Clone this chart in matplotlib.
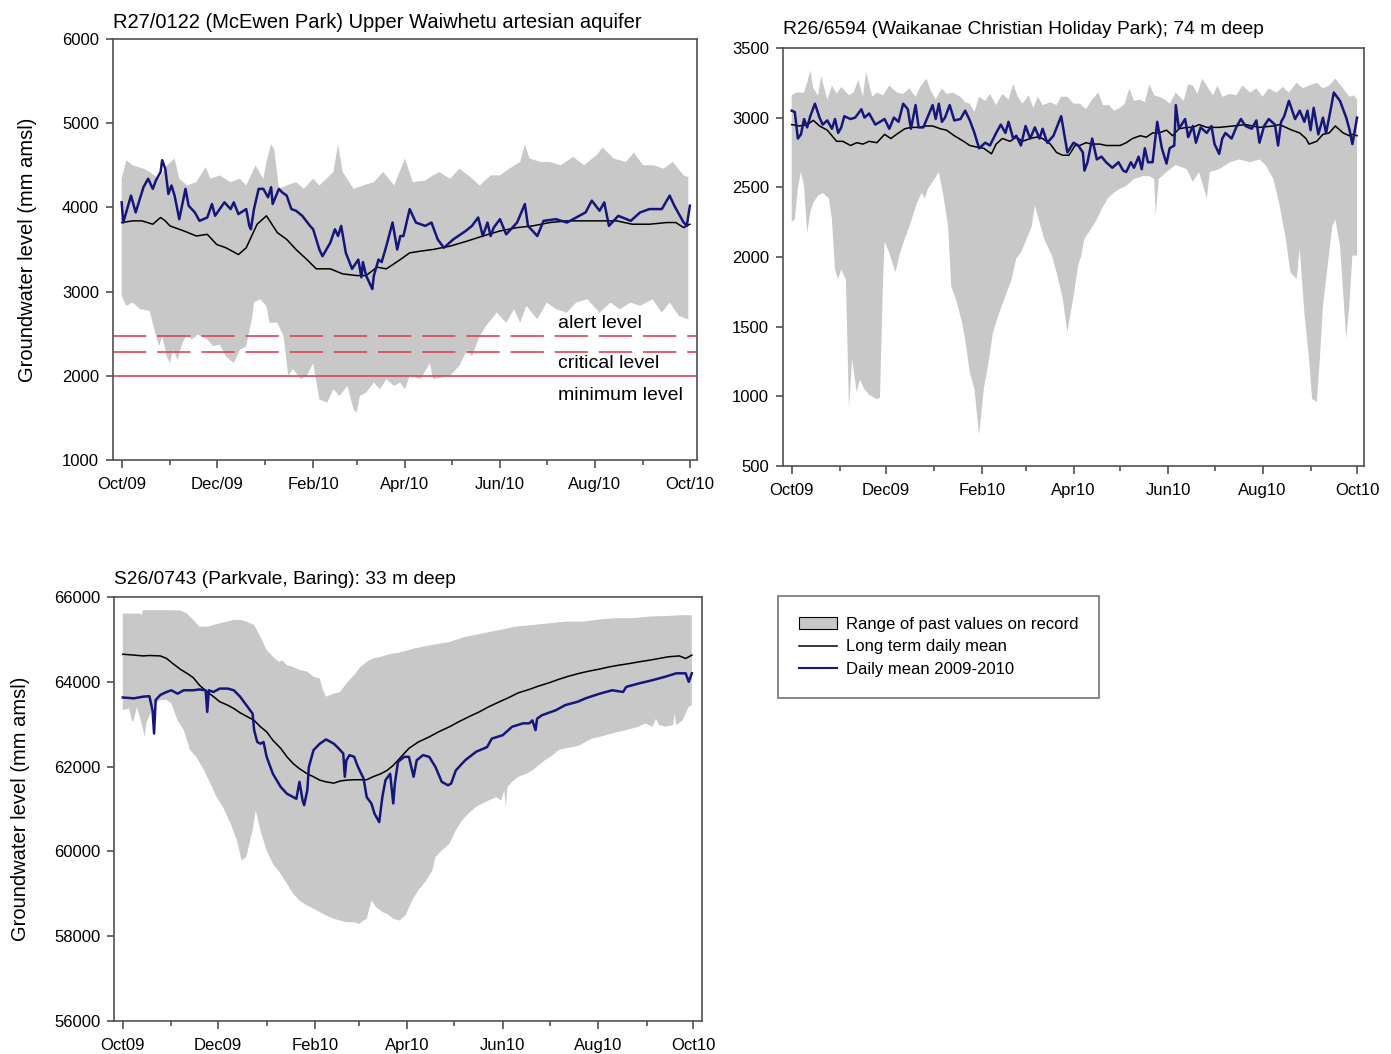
import numpy as np
import matplotlib
matplotlib.use('Agg')
import matplotlib.pyplot as plt
from matplotlib.patches import Patch
from matplotlib.lines import Line2D

plt.rcParams['font.family'] = ['Liberation Sans', 'DejaVu Sans']

# month starts in days after 1 Oct 2009
month_days = [0, 31, 61, 92, 123, 151, 182, 212, 243, 273, 304, 335, 365]
labels_p1 = ['Oct/09', 'Dec/09', 'Feb/10', 'Apr/10', 'Jun/10', 'Aug/10', 'Oct/10']
labels_p23 = ['Oct09', 'Dec09', 'Feb10', 'Apr10', 'Jun10', 'Aug10', 'Oct10']

# ---------- R27/0122 McEwen Park ----------
p1_blue_d = [0, 1, 6, 9, 14, 17, 20, 22, 25, 26, 28, 30, 32, 34, 37, 41, 43, 47, 50, 55, 58, 60, 66, 70,
             72, 75, 80, 82, 83, 85, 88, 91, 94, 96, 97, 101, 103, 106, 109, 112, 116, 121, 123, 127, 129,
             134, 137, 139, 141, 144, 148, 152, 154, 155, 157, 160, 161, 162, 165, 167, 170, 174, 177, 179,
             181, 185, 189, 195, 199, 203, 207, 213, 221, 225, 229, 232, 235, 237, 239, 243, 247, 254, 259,
             261, 267, 271, 279, 286, 292, 298, 302, 307, 310, 313, 319, 327, 333, 339, 347, 352, 355, 361,
             363, 365]
p1_blue_v = [4060, 3820, 4140, 3940, 4240, 4340, 4220, 4320, 4420, 4560, 4460, 4160, 4260, 4140, 3860, 4220,
             4020, 3940, 3840, 3880, 4040, 3900, 4060, 3980, 4060, 3920, 3980, 3780, 3740, 3980, 4220, 4220,
             4120, 4240, 4040, 4220, 4180, 4140, 3980, 3960, 3900, 3780, 3740, 3500, 3420, 3580, 3740, 3660,
             3780, 3460, 3270, 3380, 3170, 3350, 3190, 3070, 3030, 3190, 3380, 3350, 3540, 3820, 3500, 3660,
             3660, 3980, 3820, 3780, 3820, 3620, 3520, 3620, 3720, 3780, 3880, 3660, 3820, 3660, 3760, 3860,
             3680, 3820, 4040, 3780, 3660, 3840, 3860, 3820, 3880, 3940, 4080, 3960, 4060, 3780, 3900, 3840,
             3940, 3980, 3980, 4140, 4020, 3820, 3780, 4020]
p1_mean_d = [0, 7, 13, 20, 25, 28, 31, 40, 48, 55, 61, 67, 75, 80, 87, 93, 100, 106, 112, 119, 125, 134,
             142, 151, 157, 164, 170, 179, 185, 192, 200, 211, 222, 232, 243, 254, 264, 275, 286, 296, 307,
             318, 328, 339, 350, 356, 361, 365]
p1_mean_v = [3820, 3840, 3840, 3800, 3880, 3840, 3780, 3720, 3660, 3680, 3560, 3520, 3440, 3520, 3800, 3900,
             3700, 3620, 3500, 3380, 3270, 3270, 3210, 3190, 3190, 3290, 3270, 3380, 3460, 3480, 3500, 3540,
             3600, 3660, 3720, 3760, 3780, 3820, 3840, 3840, 3840, 3840, 3800, 3800, 3820, 3820, 3760, 3800]
p1_hi_d = [0, 3, 7, 14, 18, 24, 29, 34, 37, 42, 48, 54, 57, 63, 70, 76, 80, 86, 91, 93, 96, 98, 101, 106,
           112, 117, 123, 127, 136, 139, 142, 149, 155, 162, 168, 175, 182, 187, 195, 200, 204, 211, 217,
           224, 230, 237, 243, 249, 256, 259, 262, 269, 275, 282, 290, 297, 305, 309, 316, 324, 329, 335,
           342, 348, 354, 361, 364]
p1_hi_v = [4340, 4560, 4500, 4460, 4420, 4340, 4500, 4580, 4340, 4260, 4300, 4480, 4340, 4380, 4300, 4340,
           4260, 4500, 4340, 4540, 4750, 4690, 4220, 4260, 4300, 4220, 4340, 4260, 4420, 4750, 4420, 4220,
           4260, 4300, 4420, 4260, 4580, 4300, 4320, 4380, 4420, 4340, 4460, 4360, 4260, 4380, 4380, 4460,
           4540, 4750, 4580, 4540, 4540, 4500, 4600, 4500, 4620, 4710, 4580, 4540, 4650, 4500, 4500, 4460,
           4540, 4380, 4360]
p1_lo_d = [0, 3, 7, 12, 18, 21, 24, 26, 29, 31, 33, 36, 39, 42, 45, 49, 55, 59, 63, 67, 72, 76, 80, 84,
           85, 89, 93, 95, 100, 104, 107, 110, 115, 119, 123, 127, 132, 136, 140, 145, 149, 151, 153, 157,
           162, 166, 170, 175, 179, 182, 185, 192, 198, 200, 211, 217, 222, 225, 230, 234, 241, 247, 252,
           256, 260, 267, 273, 279, 286, 292, 299, 307, 314, 320, 327, 333, 341, 347, 352, 358, 364]
p1_lo_v = [2950, 2830, 2870, 2790, 2770, 2550, 2350, 2470, 2230, 2150, 2310, 2190, 2390, 2490, 2430, 2490,
           2430, 2350, 2370, 2230, 2150, 2310, 2350, 2710, 2870, 2910, 2830, 2630, 2630, 2470, 2000, 2080,
           1960, 2000, 2150, 1720, 1680, 1840, 1760, 1880, 1600, 1560, 1760, 1800, 1920, 1840, 1960, 1880,
           1920, 1840, 2000, 1960, 2150, 1960, 2000, 2120, 2310, 2230, 2470, 2590, 2750, 2630, 2790, 2630,
           2830, 2670, 2870, 2790, 2750, 2870, 2910, 2750, 2870, 2790, 2870, 2830, 2910, 2750, 2870, 2710,
           2670]
level_values = [2470, 2280, 2000]
level_names = ['alert level', 'critical level', 'minimum level']
level_label_y = [2615, 2140, 1760]

# ---------- R26/6594 Waikanae ----------
p2_blue_d = [0, 2, 4, 6, 8, 10, 12, 15, 18, 20, 23, 26, 28, 30, 32, 34, 38, 41, 45, 47, 50, 54, 57, 60,
             63, 66, 69, 72, 75, 77, 80, 82, 85, 88, 91, 93, 95, 97, 99, 102, 105, 109, 112, 115, 118, 121,
             125, 128, 132, 135, 138, 140, 143, 145, 148, 151, 154, 157, 160, 162, 165, 169, 174, 178, 182,
             185, 188, 189, 191, 194, 197, 200, 203, 207, 211, 214, 216, 219, 221, 224, 226, 228, 230, 233,
             236, 239, 242, 244, 247, 248, 250, 254, 256, 259, 261, 264, 268, 271, 273, 276, 278, 280, 284,
             287, 290, 293, 297, 300, 302, 305, 308, 312, 314, 316, 318, 321, 325, 328, 331, 333, 335, 337,
             340, 343, 345, 348, 350, 354, 358, 360, 362, 365]
p2_blue_v = [3050, 3040, 2850, 2880, 2990, 2930, 3010, 3100, 3000, 2950, 2980, 2920, 2990, 2890, 2930, 3010,
             2990, 3000, 3060, 3000, 3030, 2950, 2970, 2990, 2920, 3000, 2970, 3100, 3060, 2920, 3090, 2930,
             2930, 3010, 3090, 2990, 3100, 2970, 3000, 3090, 2980, 2990, 3050, 2980, 2890, 2780, 2820, 2800,
             2890, 2950, 2890, 2970, 2850, 2870, 2800, 2940, 2850, 2930, 2850, 2920, 2820, 2870, 3010, 2750,
             2820, 2800, 2750, 2620, 2680, 2850, 2700, 2720, 2680, 2640, 2680, 2620, 2610, 2680, 2640, 2720,
             2630, 2780, 2680, 2680, 2970, 2780, 2670, 2780, 2800, 3090, 2920, 2990, 2860, 2940, 2820, 2930,
             2890, 2940, 2810, 2740, 2850, 2890, 2850, 2930, 2990, 2940, 2920, 2980, 2820, 2940, 2990, 2950,
             2800, 2970, 3010, 3120, 2990, 3050, 2970, 3050, 2910, 3070, 2880, 3000, 2890, 3060, 3180, 3120,
             3000, 2920, 2810, 3000]
p2_mean_d = [0, 5, 10, 14, 18, 23, 26, 29, 33, 38, 42, 46, 50, 55, 60, 64, 69, 73, 77, 82, 87, 91, 96,
             100, 105, 111, 115, 119, 124, 129, 132, 136, 141, 145, 149, 154, 158, 162, 167, 171, 175, 179,
             183, 186, 190, 194, 199, 203, 207, 212, 216, 220, 225, 229, 233, 237, 242, 246, 250, 255, 259,
             263, 268, 276, 285, 293, 302, 311, 315, 319, 323, 328, 332, 334, 339, 343, 347, 351, 356, 360,
             362, 365]
p2_mean_v = [2950, 2940, 2950, 2980, 2940, 2910, 2870, 2830, 2830, 2800, 2820, 2810, 2830, 2820, 2880, 2850,
             2890, 2920, 2930, 2930, 2940, 2940, 2920, 2910, 2870, 2830, 2800, 2790, 2780, 2740, 2810, 2850,
             2830, 2860, 2830, 2850, 2860, 2850, 2810, 2750, 2730, 2730, 2800, 2800, 2820, 2810, 2810, 2800,
             2800, 2800, 2820, 2850, 2870, 2860, 2890, 2890, 2910, 2870, 2920, 2930, 2930, 2950, 2930, 2930,
             2940, 2950, 2930, 2940, 2950, 2930, 2910, 2890, 2850, 2810, 2830, 2880, 2890, 2940, 2890, 2870,
             2880, 2870]
p2_hi_d = [0, 3, 8, 10, 12, 14, 17, 19, 23, 26, 29, 32, 37, 40, 43, 46, 48, 52, 55, 59, 63, 68, 72, 76,
           80, 83, 87, 90, 93, 97, 100, 104, 109, 112, 115, 118, 121, 125, 128, 132, 136, 140, 143, 146,
           149, 153, 156, 159, 162, 167, 171, 174, 178, 182, 186, 190, 194, 198, 201, 205, 208, 212, 215,
           218, 221, 225, 228, 231, 234, 237, 241, 244, 248, 253, 256, 259, 262, 265, 269, 272, 275, 278,
           283, 287, 291, 296, 300, 304, 308, 313, 317, 321, 326, 330, 334, 339, 343, 347, 351, 356, 360,
           363, 365]
p2_hi_v = [3160, 3180, 3180, 3250, 3340, 3210, 3160, 3300, 3130, 3230, 3170, 3220, 3160, 3180, 3270, 3150,
           3330, 3150, 3180, 3160, 3230, 3180, 3170, 3210, 3150, 3220, 3280, 3190, 3130, 3210, 3170, 3180,
           3150, 3110, 3100, 3040, 3150, 3120, 3170, 3090, 3170, 3130, 3240, 3150, 3100, 3160, 3070, 3150,
           3090, 3110, 3090, 3150, 3150, 3100, 3100, 3060, 3130, 3180, 3090, 3090, 3050, 3070, 3100, 3210,
           3120, 3130, 3110, 3240, 3160, 3150, 3130, 3100, 3180, 3120, 3240, 3230, 3170, 3280, 3210, 3160,
           3230, 3150, 3170, 3160, 3230, 3180, 3210, 3150, 3210, 3180, 3220, 3180, 3250, 3210, 3230, 3250,
           3210, 3230, 3280, 3210, 3150, 3160, 3130]
p2_lo_d = [0, 2, 4, 6, 8, 10, 12, 14, 17, 20, 24, 26, 28, 30, 32, 35, 37, 39, 42, 44, 47, 50, 55, 57,
           59, 60, 63, 67, 70, 73, 76, 81, 84, 86, 88, 91, 95, 98, 101, 103, 106, 110, 112, 115, 118, 121,
           124, 127, 130, 134, 138, 142, 145, 148, 151, 155, 157, 160, 163, 168, 171, 175, 178, 182, 185,
           187, 189, 192, 197, 200, 204, 208, 212, 216, 221, 227, 231, 234, 235, 237, 242, 248, 255, 259,
           263, 268, 270, 276, 283, 289, 296, 302, 306, 311, 315, 319, 322, 326, 328, 331, 334, 336, 339,
           341, 343, 345, 347, 349, 351, 354, 356, 358, 360, 362, 365]
p2_lo_v = [2250, 2270, 2490, 2610, 2510, 2170, 2320, 2390, 2440, 2460, 2420, 2270, 1910, 1840, 1910, 1840,
           910, 1270, 1030, 1120, 1050, 1010, 980, 990, 1840, 2110, 2030, 1890, 2030, 2130, 2220, 2390,
           2460, 2420, 2490, 2540, 2610, 2440, 2220, 1790, 1700, 1530, 1410, 1170, 1050, 720, 1050, 1240,
           1460, 1600, 1720, 1840, 1990, 2030, 2110, 2220, 2370, 2250, 2130, 2010, 1890, 1700, 1460, 1720,
           1940, 2010, 2130, 2180, 2270, 2340, 2420, 2460, 2490, 2510, 2560, 2580, 2580, 2560, 2300, 2560,
           2610, 2660, 2630, 2540, 2610, 2420, 2610, 2630, 2680, 2700, 2680, 2700, 2660, 2560, 2370, 2130,
           1890, 1840, 2060, 1600, 1270, 980, 960, 1270, 1650, 1840, 2030, 2220, 2270, 2080, 1750, 1410,
           1650, 2010, 2010]

# ---------- S26/0743 Parkvale ----------
p3_blue_d = [0, 7, 13, 17, 19, 20, 21, 24, 28, 31, 35, 39, 45, 49, 53, 54, 55, 58, 62, 67, 71, 75, 79,
             83, 84, 86, 88, 90, 92, 96, 101, 105, 109, 111, 113, 115, 116, 118, 119, 122, 126, 130, 135,
             138, 141, 142, 143, 145, 148, 150, 152, 154, 156, 159, 161, 164, 166, 168, 171, 173, 174, 176,
             180, 183, 186, 188, 192, 196, 200, 204, 208, 210, 213, 219, 226, 233, 236, 243, 249, 256, 260,
             262, 264, 265, 268, 277, 283, 291, 296, 305, 313, 320, 322, 330, 339, 347, 354, 360, 362, 364]
p3_blue_v = [63630, 63610, 63650, 63660, 63330, 62780, 63570, 63690, 63760, 63800, 63720, 63800, 63800,
             63820, 63800, 63290, 63800, 63760, 63840, 63840, 63800, 63650, 63450, 63250, 62860, 62580,
             62540, 62580, 62230, 61830, 61520, 61360, 61280, 61240, 61640, 61200, 61090, 61440, 61990,
             62390, 62540, 62640, 62540, 62430, 62310, 61760, 62150, 62270, 62230, 62030, 61870, 61720,
             61280, 61130, 60890, 60690, 61280, 61680, 61830, 61130, 61600, 62110, 62230, 62230, 61760,
             62150, 62270, 62230, 61990, 61640, 61560, 61600, 61910, 62150, 62350, 62460, 62660, 62740,
             62940, 63020, 63020, 63090, 62860, 63130, 63210, 63330, 63450, 63530, 63610, 63720, 63800,
             63760, 63880, 63960, 64040, 64120, 64200, 64200, 64000, 64200]
p3_mean_d = [0, 7, 13, 17, 24, 28, 32, 37, 41, 45, 49, 54, 58, 62, 67, 71, 75, 79, 84, 88, 92, 96, 101,
             105, 109, 113, 118, 122, 126, 130, 135, 139, 143, 148, 152, 156, 160, 165, 169, 173, 177, 183,
             189, 196, 202, 209, 215, 221, 228, 234, 241, 247, 253, 260, 266, 273, 279, 285, 292, 298, 305,
             311, 317, 324, 330, 337, 343, 349, 356, 360, 364]
p3_mean_v = [64650, 64630, 64610, 64620, 64610, 64550, 64430, 64290, 64200, 64100, 63920, 63760, 63650,
             63530, 63450, 63370, 63270, 63190, 63090, 62940, 62820, 62620, 62430, 62230, 62070, 61950,
             61830, 61760, 61680, 61640, 61610, 61660, 61680, 61690, 61690, 61690, 61760, 61830, 61910,
             62030, 62190, 62430, 62580, 62700, 62820, 62940, 63060, 63170, 63290, 63410, 63530, 63630,
             63740, 63820, 63900, 63980, 64060, 64130, 64200, 64250, 64300, 64350, 64390, 64430, 64470,
             64510, 64550, 64590, 64610, 64550, 64630]
p3_hi_d = [0, 11, 12, 13, 20, 28, 37, 41, 44, 47, 49, 54, 58, 62, 67, 71, 75, 79, 84, 88, 92, 96, 100,
           102, 105, 109, 113, 118, 122, 126, 128, 130, 135, 139, 143, 148, 152, 156, 160, 165, 169, 173,
           177, 187, 198, 209, 219, 230, 241, 251, 262, 273, 283, 294, 305, 315, 326, 337, 347, 358, 364]
p3_hi_v = [65610, 65610, 65570, 65690, 65690, 65690, 65680, 65610, 65500, 65380, 65300, 65300, 65340,
           65380, 65420, 65460, 65460, 65420, 65340, 65060, 64750, 64590, 64470, 64510, 64390, 64350,
           64280, 64240, 64120, 64080, 63800, 63650, 63720, 63760, 63960, 64160, 64350, 64470, 64550,
           64590, 64630, 64670, 64690, 64790, 64870, 64940, 65060, 65140, 65220, 65300, 65340, 65380,
           65420, 65420, 65470, 65500, 65500, 65540, 65550, 65570, 65570]
p3_lo_d = [0, 4, 6, 7, 9, 12, 14, 15, 20, 24, 28, 31, 35, 39, 43, 47, 52, 56, 60, 64, 69, 73, 76, 79,
           83, 85, 88, 92, 96, 101, 105, 109, 113, 118, 122, 126, 130, 135, 139, 143, 148, 151, 154, 156,
           159, 162, 166, 169, 173, 177, 181, 185, 189, 194, 198, 200, 204, 209, 213, 217, 221, 226, 230,
           234, 239, 242, 244, 245, 246, 249, 253, 258, 262, 266, 270, 275, 279, 283, 288, 292, 296, 300,
           305, 309, 313, 317, 322, 326, 330, 334, 339, 341, 343, 347, 352, 353, 354, 358, 362, 364]
p3_lo_v = [63330, 63370, 63060, 63090, 63410, 63020, 62700, 63020, 63450, 63570, 63570, 63490, 63090,
           62860, 62390, 62230, 61910, 61600, 61280, 61050, 60650, 60260, 59790, 59870, 60500, 60970,
           60500, 60020, 59710, 59470, 59240, 59000, 58840, 58720, 58650, 58570, 58490, 58410, 58370,
           58330, 58330, 58290, 58370, 58410, 58840, 58690, 58570, 58530, 58410, 58370, 58500, 58840,
           59080, 59310, 59550, 59870, 60020, 60180, 60500, 60730, 60890, 61050, 61130, 61200, 61280,
           61200, 61440, 61050, 61520, 61640, 61760, 61830, 61910, 62030, 62150, 62270, 62390, 62430,
           62460, 62500, 62580, 62660, 62700, 62740, 62780, 62820, 62860, 62900, 62940, 63020, 62940,
           63130, 62980, 62940, 62980, 63250, 62980, 63090, 63410, 63450]

band_col = '#c8c8c8'
blue_col = '#16167a'
red_col = '#d9465c'
spine_col = '#505050'


def style_axes(ax, labels, ylim, yticks):
    ax.set_xlim(-5.6, 369.5)
    ax.set_ylim(*ylim)
    ax.set_yticks(yticks)
    ax.set_xticks(month_days[::2])
    ax.set_xticklabels(labels, fontsize=12)
    ax.set_xticks(month_days[1::2], minor=True)
    ax.tick_params(axis='x', which='major', length=6, width=1.2, color=spine_col, pad=6)
    ax.tick_params(axis='x', which='minor', length=3.5, width=1.2, color=spine_col)
    ax.tick_params(axis='y', length=5, width=1.2, color=spine_col, labelsize=12, pad=5)
    for s in ax.spines.values():
        s.set_color(spine_col)
        s.set_linewidth(1.2)


def draw_band(ax, hd, hv, ld, lv):
    xs = list(hd) + list(ld[::-1])
    ys = list(hv) + list(lv[::-1])
    ax.fill(xs, ys, color=band_col, lw=0, zorder=1)


fig = plt.figure(figsize=(13.91, 10.54), dpi=100)

# panel 1
ax1 = fig.add_axes([0.0812, 0.5636, 0.4198, 0.3994])
draw_band(ax1, p1_hi_d, p1_hi_v, p1_lo_d, p1_lo_v)
ax1.plot(p1_mean_d, p1_mean_v, color='black', lw=1.1, zorder=3)
ax1.plot(p1_blue_d, p1_blue_v, color=blue_col, lw=1.8, zorder=4)
ax1.axhline(level_values[0], color=red_col, lw=1.2, dashes=(20, 6.5), zorder=2)
ax1.axhline(level_values[1], color=red_col, lw=1.2, dashes=(20, 6.5), zorder=2)
ax1.axhline(level_values[2], color=red_col, lw=1.2, zorder=2)
for name, yv in zip(level_names, level_label_y):
    ax1.text(280, yv, name, fontsize=14, va='center', ha='left', zorder=5)
style_axes(ax1, labels_p1, (1000, 6000), [1000, 2000, 3000, 4000, 5000, 6000])
ax1.set_title('R27/0122 (McEwen Park) Upper Waiwhetu artesian aquifer', loc='left', fontsize=14.5, pad=8)
ax1.set_ylabel('Groundwater level (mm amsl)', fontsize=14.5)
ax1.yaxis.set_label_coords(-0.130, 0.5)

# panel 2
ax2 = fig.add_axes([0.5629, 0.5579, 0.4177, 0.3966])
draw_band(ax2, p2_hi_d, p2_hi_v, p2_lo_d, p2_lo_v)
ax2.plot(p2_mean_d, p2_mean_v, color='black', lw=1.1, zorder=3)
ax2.plot(p2_blue_d, p2_blue_v, color=blue_col, lw=1.8, zorder=4)
style_axes(ax2, labels_p23, (500, 3500), [500, 1000, 1500, 2000, 2500, 3000, 3500])
ax2.set_title('R26/6594 (Waikanae Christian Holiday Park); 74 m deep', loc='left', fontsize=13.8, pad=10)

# panel 3
ax3 = fig.add_axes([0.0820, 0.0313, 0.4227, 0.4023])
draw_band(ax3, p3_hi_d, p3_hi_v, p3_lo_d, p3_lo_v)
ax3.plot(p3_mean_d, p3_mean_v, color='black', lw=1.1, zorder=3)
ax3.plot(p3_blue_d, p3_blue_v, color=blue_col, lw=1.8, zorder=4)
style_axes(ax3, labels_p23, (56000, 66000), [56000, 58000, 60000, 62000, 64000, 66000])
ax3.set_xlim(-5.6, 370.5)
ax3.set_title('S26/0743 (Parkvale, Baring): 33 m deep', loc='left', fontsize=13.8, pad=9)
ax3.set_ylabel('Groundwater level (mm amsl)', fontsize=14.5)
ax3.yaxis.set_label_coords(-0.143, 0.5)

handles = [Patch(facecolor=band_col, edgecolor='black', lw=0.8),
           Line2D([], [], color='black', lw=1.1),
           Line2D([], [], color=blue_col, lw=1.5)]
leg_labels = ['Range of past values on record', 'Long term daily mean', 'Daily mean 2009-2010']
leg = fig.legend(handles, leg_labels, loc='upper left', bbox_to_anchor=(0.5593, 0.4345),
                 fontsize=12, frameon=True, fancybox=False, edgecolor=spine_col,
                 borderpad=1.25, handlelength=2.28, handletextpad=0.55, labelspacing=0.45,
                 borderaxespad=0)
leg.get_frame().set_linewidth(1.2)

fig.savefig('out.png', dpi=100)
